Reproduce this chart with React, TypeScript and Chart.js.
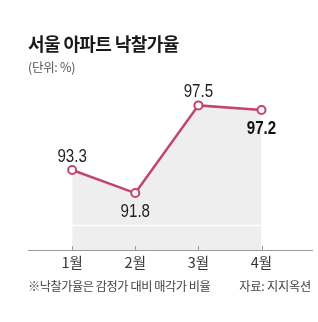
import React, { useEffect, useRef } from "react";
import { Chart, registerables } from "chart.js";

Chart.register(...registerables);

const MONTHS = ["1월", "2월", "3월", "4월"];
const RATES = [93.3, 91.8, 97.5, 97.2];
const LABEL_SIDE = ["above", "below", "above", "below"];
const HIGHLIGHT_INDEX = 3;
const GUIDE_VALUE = 89.7;

const TITLE = "서울 아파트 낙찰가율";
const UNIT = "(단위: %)";
const NOTE = "※낙찰가율은 감정가 대비 매각가 비율";
const SOURCE = "자료: 지지옥션";

const LINE_COLOR = "#c2456d";
const KR_FONT = "'Noto Sans CJK KR', 'Noto Sans', sans-serif";
const NUM_FONT = "'Liberation Sans', Arial, sans-serif";

const overlayPlugin = {
  id: "overlay",
  afterDatasetsDraw(chart: any) {
    const { ctx, chartArea } = chart;
    const xs = chart.scales.x;
    const ys = chart.scales.y;
    ctx.save();
    const gy = ys.getPixelForValue(GUIDE_VALUE);
    ctx.strokeStyle = "#ffffff";
    ctx.lineWidth = 1.5;
    ctx.beginPath();
    ctx.moveTo(chartArea.left, gy);
    ctx.lineTo(chartArea.right, gy);
    ctx.stroke();
    ctx.strokeStyle = "#9a9a9a";
    ctx.lineWidth = 1;
    MONTHS.forEach((_, i) => {
      const x = Math.round(xs.getPixelForValue(i)) + 0.5;
      ctx.beginPath();
      ctx.moveTo(x, chartArea.bottom);
      ctx.lineTo(x, chartArea.bottom - 4);
      ctx.stroke();
    });
    const meta = chart.getDatasetMeta(0);
    ctx.textAlign = "center";
    ctx.textBaseline = "middle";
    const squeeze = 0.84;
    meta.data.forEach((pt: any, i: number) => {
      const bold = i === HIGHLIGHT_INDEX;
      ctx.font = `${bold ? "bold " : ""}18px ${NUM_FONT}`;
      ctx.fillStyle = bold ? "#111111" : "#1e1e1e";
      const dy = LABEL_SIDE[i] === "above" ? -14 : 18;
      ctx.save();
      ctx.translate(pt.x, pt.y + dy);
      ctx.scale(squeeze, 1);
      ctx.fillText(String(RATES[i]), 0, 1);
      ctx.restore();
    });
    ctx.restore();
  },
};

function LineChart() {
  const ref = useRef<HTMLCanvasElement | null>(null);
  useEffect(() => {
    if (!ref.current) return;
    const chart = new Chart(ref.current, {
      type: "line",
      data: {
        datasets: [
          {
            data: RATES.map((v, i) => ({ x: i, y: v })),
            borderColor: LINE_COLOR,
            borderWidth: 2.5,
            backgroundColor: "#eeeeee",
            fill: "start",
            tension: 0,
            pointRadius: 4,
            pointBorderWidth: 2,
            pointBackgroundColor: "#ffffff",
            pointBorderColor: LINE_COLOR,
          },
        ],
      },
      options: {
        responsive: false,
        animation: false,
        devicePixelRatio: 1,
        layout: { padding: { left: 28, right: 6, top: 90, bottom: 42 } },
        plugins: {
          legend: { display: false },
          tooltip: { enabled: false },
          title: { display: false },
        },
        scales: {
          x: {
            type: "linear",
            min: -0.7,
            max: 3.8,
            afterBuildTicks: (scale: any) => {
              scale.ticks = MONTHS.map((_, i) => ({ value: i }));
            },
            afterFit: (scale: any) => {
              scale.height = 30;
            },
            grid: { display: false, drawTicks: false },
            border: { display: true, color: "#9a9a9a", width: 1 },
            ticks: {
              autoSkip: false,
              maxRotation: 0,
              padding: 4,
              color: "#333333",
              font: { family: KR_FONT, size: 14.5 },
              callback: (v: any) => MONTHS[v] ?? "",
            },
          },
          y: {
            display: false,
            min: 88.1,
            max: 98.5,
          },
        },
      },
      plugins: [overlayPlugin],
    });
    return () => chart.destroy();
  }, []);
  return (
    <canvas
      ref={ref}
      width={318}
      height={322}
      style={{ position: "absolute", left: 0, top: 0, width: 318, height: 322, display: "block" }}
    />
  );
}

export default function App() {
  return (
    <div
      style={{
        position: "fixed",
        left: 0,
        top: 0,
        width: 318,
        height: 322,
        background: "#ffffff",
        overflow: "hidden",
        fontFamily: KR_FONT,
      }}
    >
      <LineChart />
      <div
        style={{
          position: "absolute",
          left: 28,
          top: 34,
          fontSize: 18,
          lineHeight: "18px",
          fontWeight: 700,
          color: "#1a1a1a",
          letterSpacing: "-0.6px",
          whiteSpace: "nowrap",
        }}
      >
        {TITLE}
      </div>
      <div
        style={{
          position: "absolute",
          left: 28,
          top: 61,
          fontSize: 12.5,
          lineHeight: "12px",
          color: "#555555",
          letterSpacing: "-0.3px",
          whiteSpace: "nowrap",
        }}
      >
        {UNIT}
      </div>
      <div
        style={{
          position: "absolute",
          left: 28,
          top: 280,
          fontSize: 12.2,
          lineHeight: "12px",
          color: "#444444",
          letterSpacing: "-0.45px",
          whiteSpace: "nowrap",
        }}
      >
        {NOTE}
      </div>
      <div
        style={{
          position: "absolute",
          right: 7,
          top: 280,
          fontSize: 12.2,
          lineHeight: "12px",
          color: "#444444",
          letterSpacing: "-0.2px",
          whiteSpace: "nowrap",
        }}
      >
        {SOURCE}
      </div>
    </div>
  );
}
